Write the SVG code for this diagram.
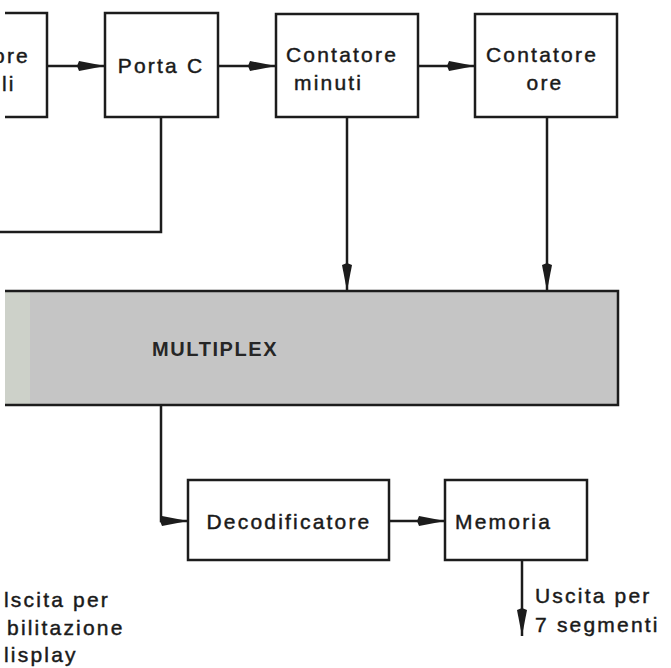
<svg xmlns="http://www.w3.org/2000/svg" width="671" height="668" viewBox="0 0 671 668">
<defs>
<style>
.box{fill:#fff;stroke:#1c1c1c;stroke-width:2.5}
.ln{fill:none;stroke:#1c1c1c;stroke-width:2.5}
.t{font-family:"Liberation Sans",Arial,sans-serif;font-size:21px;letter-spacing:2.2px;fill:#1a1a1a;stroke:#1a1a1a;stroke-width:0.45}
.tb{font-family:"Liberation Sans",Arial,sans-serif;font-size:20px;font-weight:bold;letter-spacing:1.6px;fill:#262626}
</style>
<marker id="ah" markerWidth="28" markerHeight="12" refX="28" refY="6" orient="auto" markerUnits="userSpaceOnUse">
<path d="M0,6 L2,1 L28,6 L2,11 Z" fill="#1c1c1c"/>
</marker>
</defs>
<rect width="671" height="668" fill="#fff"/>

<g id="contatore-secondi">
<rect x="0" y="13" width="47" height="104" fill="#fff"/>
<path class="ln" d="M5,13 H47 V117 H5"/>
<text class="t" x="-7" y="63">ore</text>
<text class="t" x="2" y="91">li</text>
</g>

<g id="porta-c">
<rect class="box" x="105" y="13" width="113" height="104"/>
<text class="t" x="161" y="73" text-anchor="middle">Porta C</text>
</g>

<g id="contatore-minuti">
<rect class="box" x="276" y="14" width="142" height="103"/>
<text class="t" x="286" y="62">Contatore</text>
<text class="t" x="294" y="90">minuti</text>
</g>

<g id="contatore-ore">
<rect class="box" x="475" y="14" width="142" height="103"/>
<text class="t" x="486" y="62">Contatore</text>
<text class="t" x="545" y="90" text-anchor="middle">ore</text>
</g>

<g id="multiplex">
<rect x="5" y="291" width="613" height="114" fill="#c5c5c5"/>
<rect x="5" y="291" width="25" height="114" fill="#cdd1c9"/>
<path class="ln" d="M5,291 H618 V405 H5" stroke-width="3"/>
<text class="tb" x="152" y="356">MULTIPLEX</text>
</g>

<g id="decodificatore">
<rect class="box" x="188" y="480" width="201" height="80"/>
<text class="t" x="289" y="529" text-anchor="middle">Decodificatore</text>
</g>

<g id="memoria">
<rect class="box" x="445" y="480" width="142" height="80"/>
<text class="t" x="455" y="529">Memoria</text>
</g>

<g id="labels">
<text class="t" x="535" y="603">Uscita per</text>
<text class="t" x="535" y="632">7 segmenti</text>
<text class="t" x="4" y="607">lscita per</text>
<text class="t" x="7" y="635">bilitazione</text>
<text class="t" x="4" y="662">lisplay</text>
</g>

<g id="connectors">
<path class="ln" d="M47,66 H105" marker-end="url(#ah)"/>
<path class="ln" d="M218,66 H276" marker-end="url(#ah)"/>
<path class="ln" d="M418,66 H475" marker-end="url(#ah)"/>
<path class="ln" d="M161,117 V232 H0"/>
<path class="ln" d="M347,117 V291" marker-end="url(#ah)"/>
<path class="ln" d="M547,117 V291" marker-end="url(#ah)"/>
<path class="ln" d="M161,405 V521 H188" marker-end="url(#ah)"/>
<path class="ln" d="M389,521 H445" marker-end="url(#ah)"/>
<path class="ln" d="M522,560 V636" marker-end="url(#ah)"/>
</g>
</svg>
